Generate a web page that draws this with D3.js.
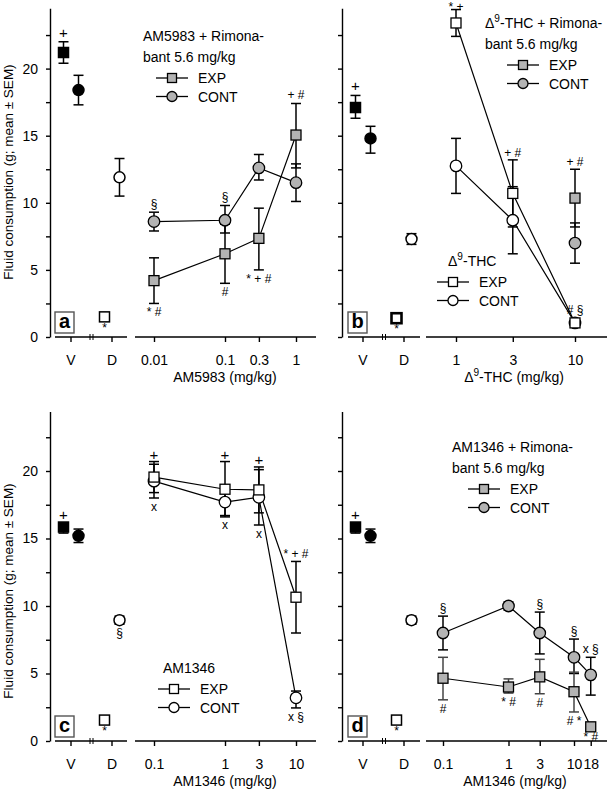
<!DOCTYPE html>
<html><head><meta charset="utf-8">
<script src="https://cdn.jsdelivr.net/npm/d3@7"></script>
<style>body{margin:0;background:#fff}svg{display:block}text{font-family:Arial,"Liberation Sans",Helvetica,sans-serif}</style>
</head><body><div id="chart"></div>
<script>
// ---------- DATA ----------
// Vehicle (V) / Drug-alone (D) control points: [group, series, mean, upper, lower]
const aVD = [["V","EXP",21.2,22.0,20.4],["V","CONT",18.4,19.5,17.3],["D","CONT",11.9,13.3,10.5],["D","EXP",1.5,null,null]];
const bVD = [["V","EXP",17.1,18.0,16.3],["V","CONT",14.8,15.7,13.7],["D","CONT",7.3,7.7,6.9],["D","EXP",1.4,null,null]];
const cVD = [["V","EXP",15.85,16.1,15.4],["V","CONT",15.2,15.7,14.7],["D","CONT",8.95,9.25,8.65],["D","EXP",1.55,null,null]];
const dVD = [["V","EXP",15.85,16.1,15.4],["V","CONT",15.2,15.7,14.7],["D","CONT",8.95,9.25,8.65],["D","EXP",1.55,null,null]];

// Dose series: [dose, mean, upper, lower]
const aExpRimo  = [[0.01,4.2,5.9,2.5],[0.1,6.2,8.4,4.0],[0.3,7.35,9.6,5.0],[1,15.05,17.4,12.6]];
const aContRimo = [[0.01,8.6,9.3,7.9],[0.1,8.7,9.8,7.75],[0.3,12.6,13.6,11.7],[1,11.5,12.9,10.1]];

const bExp  = [[1,23.4,24.4,22.4],[3,10.7,13.2,8.2],[10,1.05,null,null]];
const bCont = [[1,12.75,14.8,10.7],[3,8.7,11.2,6.2],[10,1.05,null,null]];
const bExpRimo  = [[10,10.35,12.5,8.2]];
const bContRimo = [[10,7.0,8.5,5.5]];

const cExp  = [[0.1,19.55,20.7,18.4],[1,18.65,20.7,16.6],[3,18.6,20.3,16.9],[10,10.65,13.3,8.0]];
const cCont = [[0.1,19.25,20.5,18.0],[1,17.7,18.7,16.7],[3,18.05,20.1,16.0],[10,3.2,3.7,2.45]];

const dExpRimo  = [[0.1,4.65,6.2,3.05],[1,4.0,4.6,3.55],[3,4.75,6.05,3.5],[10,3.65,5.1,2.15],[18,1.05,null,null]];
const dContRimo = [[0.1,8.0,9.25,6.75],[1,10.0,10.3,9.7],[3,8.0,9.55,6.45],[10,6.2,7.55,5.0],[18,4.9,6.2,3.4]];

// Tick values / labels
const yTicks = [0,2.5,5,7.5,10,12.5,15,17.5,20,22.5];
const aDoseTicks = [0.01,0.1,0.3,1], aDoseLabels = ["0.01","0.1","0.3","1"];
const bDoseTicks = [1,3,10], bDoseLabels = ["1","3","10"];
const cDoseTicks = [0.1,1,3,10], cDoseLabels = ["0.1","1","3","10"];
const dDoseTicks = [0.1,1,3,10,18], dDoseLabels = ["0.1","1","3","10","18"];
const catLabels = ["V","D"];

// Significance marks: [x (dose or "V"/"D"+series), anchor value, text, above/below, extra dy]
const aNotes = [["VEXP",22.0,"+","above",0],["DEXP",1.5,"*","below",0],
  [0.01,9.3,"§","above",0],[0.1,9.8,"§","above",0],
  [0.01,2.5,"* #","below",0],[0.1,4.0,"#","below",0],[0.3,5.0,"* + #","below",0],[1,17.4,"+ #","above",0]];
const bNotes = [["VEXP",18.0,"+","above",0],["DEXP",1.4,"*","below",0],
  [1,24.4,"* +","above",5],[3,13.2,"+ #","above",1],[10,12.5,"+ #","above",1],[10,1.05,"# §","above",-5]];
const cNotes = [["VEXP",16.1,"+","above",0],["DEXP",1.55,"*","below",0],["DCONT",8.65,"§","below",0],
  [0.1,20.7,"+","above",2],[1,20.7,"+","above",2],[3,20.3,"+","above",2],
  [0.1,18.0,"x","below",0],[1,16.7,"x","below",0],[3,16.0,"x","below",0],
  [10,13.3,"* + #","above",1],[10,2.45,"x §","below",0]];
const dNotes = [["VEXP",16.1,"+","above",0],["DEXP",1.55,"*","below",0],
  [0.1,9.25,"§","above",0],[3,9.55,"§","above",0],[10,7.55,"§","above",0],[18,6.2,"x §","above",0],
  [0.1,3.05,"#","below",0],[1,3.55,"* #","below",0],[3,3.5,"#","below",0],[10,2.15,"# *","below",0],[18,1.05,"* #","below",1]];

// ---------- DRAWING ----------
const W = 607, H = 789;
const GRAY = "#b3b3b3";
const svg = d3.select("#chart").append("svg").attr("width", W).attr("height", H);

const yTop = d3.scaleLinear().domain([0, 24.5]).range([337, 337 - 24.5 * 13.42]);
const yBot = d3.scaleLinear().domain([0, 24.4]).range([741, 741 - 24.4 * 13.5]);

function drawMarker(g, shape, x, y, fill, sw, size) {
  if (shape === "EXP") {
    const s = size || 10;
    g.append("rect").attr("x", x - s / 2).attr("y", y - s / 2).attr("width", s).attr("height", s)
      .attr("fill", fill).attr("stroke", "#000").attr("stroke-width", sw || 1.3);
  } else {
    g.append("circle").attr("cx", x).attr("cy", y).attr("r", (size || 11) / 2)
      .attr("fill", fill).attr("stroke", "#000").attr("stroke-width", sw || 1.3);
  }
}
function drawErr(g, x, yHi, yLo, color) {
  if (yHi == null) return;
  const c = color || "#000";
  g.append("line").attr("x1", x).attr("x2", x).attr("y1", yHi).attr("y2", yLo).attr("stroke", c).attr("stroke-width", 1.5);
  [yHi, yLo].forEach(yy => g.append("line").attr("x1", x - 5).attr("x2", x + 5).attr("y1", yy).attr("y2", yy).attr("stroke", c).attr("stroke-width", 1.5));
}
function addLabel(g, x, y, parts, size, anchor) {
  const t = g.append("text").attr("x", x).attr("y", y).attr("font-size", size || 14).attr("text-anchor", anchor || "start");
  parts.forEach(p => {
    if (p.sup) t.append("tspan").attr("dy", -6).attr("font-size", (size || 14) * 0.72).text(p.sup);
    else t.append("tspan").attr("dy", p.after ? 6 : 0).text(p.t);
  });
  return t;
}
function legend(g, x, y, label, fill) {
  g.append("line").attr("x1", x).attr("x2", x + 32).attr("y1", y).attr("y2", y).attr("stroke", "#000").attr("stroke-width", 1.3);
  drawMarker(g, label === "EXP" ? "EXP" : "CONT", x + 16, y, fill, 1.3, label === "EXP" ? 9 : 10);
  g.append("text").attr("x", x + 42).attr("y", y + 5).attr("font-size", 14).text(label);
}

function drawPanel(p) {
  const g = svg.append("g");
  const y = p.y, y0 = y(0);
  // y axis
  const ax = d3.axisLeft(y).tickValues(yTicks).tickSize(4).tickSizeOuter(0).tickPadding(8)
    .tickFormat(d => (p.showY && d % 5 === 0) ? d : "");
  const ga = g.append("g").attr("transform", `translate(${p.axisX},0)`).call(ax);
  ga.selectAll("path,line").attr("stroke", "#000").attr("stroke-width", 1.4);
  ga.selectAll("text").attr("font-size", 14).attr("fill", "#000").attr("font-family", "Arial, 'Liberation Sans', sans-serif");
  // x axis segments
  const cat = d3.scaleOrdinal().domain(catLabels).range([p.vx, p.dx]);
  [[p.seg1[0], p.seg1[1]], [p.seg2[0], p.seg2[1]]].forEach(s =>
    g.append("line").attr("x1", s[0]).attr("x2", s[1]).attr("y1", y0).attr("y2", y0).attr("stroke", "#000").attr("stroke-width", 1.4));
  [p.brk - 1.5, p.brk + 1.5].forEach(bx =>
    g.append("line").attr("x1", bx).attr("x2", bx).attr("y1", y0 - 3).attr("y2", y0 + 3).attr("stroke", "#000").attr("stroke-width", 1));
  catLabels.forEach(c => {
    g.append("line").attr("x1", cat(c)).attr("x2", cat(c)).attr("y1", y0).attr("y2", y0 + 5).attr("stroke", "#000").attr("stroke-width", 1.4);
    g.append("text").attr("x", cat(c)).attr("y", y0 + 28).attr("text-anchor", "middle").attr("font-size", 14).text(c);
  });
  const xa = d3.axisBottom(p.dose).tickValues(p.ticks).tickFormat((d, i) => p.tickLabels[i]).tickSize(5).tickSizeOuter(0).tickPadding(13);
  const gx = g.append("g").attr("transform", `translate(0,${y0})`).call(xa);
  gx.select(".domain").remove();
  gx.selectAll("line").attr("stroke", "#000").attr("stroke-width", 1.4);
  gx.selectAll("text").attr("font-size", 14).attr("fill", "#000").attr("font-family", "Arial, 'Liberation Sans', sans-serif");
  // axis title
  addLabel(g, p.titleX, y0 + 45, p.title, 14, "middle");
  // y title
  if (p.showY) {
    g.append("text").attr("transform", `translate(13,${p.yTitleC}) rotate(-90)`).attr("text-anchor", "middle")
      .attr("font-size", 13.5).text("Fluid consumption (g; mean ± SEM)");
  }
  // panel letter
  g.append("rect").attr("x", p.seg1[0]).attr("y", y0 - 25).attr("width", 19).attr("height", 21)
    .attr("fill", "#fff").attr("stroke", "#555").attr("stroke-width", 1.4);
  g.append("text").attr("x", p.seg1[0] + 9.5).attr("y", y0 - 9).attr("text-anchor", "middle")
    .attr("font-size", 20).attr("font-weight", "bold").text(p.letter);

  const vdX = d => cat(d[0]) + (d[1] === "EXP" ? -7.5 : 7.5);
  // lines
  const line = d3.line().x(d => p.dose(d[0])).y(d => y(d[1]));
  p.series.filter(s => s.connect).forEach(s =>
    g.append("path").attr("d", line(s.data)).attr("fill", "none").attr("stroke", "#000").attr("stroke-width", 1.2));
  // error bars
  p.vd.forEach(d => drawErr(g, vdX(d), d[3] == null ? null : y(d[3]), d[4] == null ? null : y(d[4])));
  p.series.forEach(s => s.data.forEach(d =>
    drawErr(g, p.dose(d[0]), d[2] == null ? null : y(d[2]), d[3] == null ? null : y(d[3]), s.errColor)));
  // markers
  p.vd.forEach(d => drawMarker(g, d[1], vdX(d), y(d[2]), d[0] === "V" ? "#000" : "#fff",
    d[0] === "D" && d[1] === "EXP" ? p.dExpStroke : 1.5, d[1] === "EXP" ? 10 : 11));
  p.series.forEach(s => s.data.forEach(d => drawMarker(g, s.shape, p.dose(d[0]), y(d[1]), s.fill, 1.3, s.shape === "EXP" ? 10 : 11.5)));
  // significance marks
  p.notes.forEach(n => {
    let x;
    if (typeof n[0] === "string") {
      const grp = n[0][0], ser = n[0].slice(1);
      x = cat(grp) + (ser === "EXP" ? -7.5 : 7.5);
    } else x = p.dose(n[0]);
    const ay = y(n[1]);
    const by = n[3] === "above" ? ay - 4 + n[4] : ay + 13 + n[4];
    const fs = n[2] === "+" ? 15 : 12;
    g.append("text").attr("x", x).attr("y", n[3] === "below" && n[2] === "*" ? by + 2 : by).attr("text-anchor", "middle")
      .attr("font-size", fs).text(n[2]);
  });
  // legends
  p.legends.forEach(L => {
    L.lines.forEach((ln, i) => addLabel(g, L.x, L.y + i * 21, ln, 14, "start"));
    const ly = L.y + (L.lines.length - 1) * 21 + 16;
    legend(g, L.lx, ly, "EXP", L.fill);
    legend(g, L.lx, ly + 18.5, "CONT", L.fill);
  });
}

drawPanel({
  letter: "a", y: yTop, axisX: 50, showY: true, yTitleC: 172,
  seg1: [55, 127], brk: 91.5, seg2: [135, 316], vx: 71, dx: 112,
  dose: d3.scaleLog().domain([0.01, 1]).range([154, 296]), ticks: aDoseTicks, tickLabels: aDoseLabels,
  title: [{t: "AM5983 (mg/kg)"}], titleX: 225, vd: aVD, dExpStroke: 1.5,
  series: [
    {data: aContRimo, shape: "CONT", fill: GRAY, connect: true},
    {data: aExpRimo, shape: "EXP", fill: GRAY, connect: true}],
  notes: aNotes,
  legends: [{x: 143, y: 41, lines: [[{t: "AM5983 + Rimona-"}], [{t: "bant 5.6 mg/kg"}]], lx: 156, fill: GRAY}]
});
drawPanel({
  letter: "b", y: yTop, axisX: 342, showY: false,
  seg1: [348, 420], brk: 384, seg2: [426, 607], vx: 363, dx: 404,
  dose: d3.scaleLog().domain([1, 10]).range([456, 575]), ticks: bDoseTicks, tickLabels: bDoseLabels,
  title: [{t: "Δ"}, {sup: "9"}, {t: "-THC (mg/kg)", after: true}], titleX: 514, vd: bVD, dExpStroke: 2.6,
  series: [
    {data: bCont, shape: "CONT", fill: "#fff", connect: true},
    {data: bExp, shape: "EXP", fill: "#fff", connect: true},
    {data: bContRimo, shape: "CONT", fill: GRAY, connect: false},
    {data: bExpRimo, shape: "EXP", fill: GRAY, connect: false}],
  notes: bNotes,
  legends: [
    {x: 485, y: 28, lines: [[{t: "Δ"}, {sup: "9"}, {t: "-THC + Rimona-", after: true}], [{t: "bant 5.6 mg/kg"}]], lx: 507, fill: GRAY},
    {x: 448, y: 266, lines: [[{t: "Δ"}, {sup: "9"}, {t: "-THC", after: true}]], lx: 437, fill: "#fff"}]
});
drawPanel({
  letter: "c", y: yBot, axisX: 50, showY: true, yTitleC: 591,
  seg1: [55, 127], brk: 91.5, seg2: [135, 316], vx: 71, dx: 112,
  dose: d3.scaleLog().domain([0.1, 10]).range([154, 296]), ticks: cDoseTicks, tickLabels: cDoseLabels,
  title: [{t: "AM1346 (mg/kg)"}], titleX: 225, vd: cVD, dExpStroke: 1.5,
  series: [
    {data: cCont, shape: "CONT", fill: "#fff", connect: true},
    {data: cExp, shape: "EXP", fill: "#fff", connect: true}],
  notes: cNotes,
  legends: [{x: 163, y: 673, lines: [[{t: "AM1346"}]], lx: 158, fill: "#fff"}]
});
drawPanel({
  letter: "d", y: yBot, axisX: 342, showY: false,
  seg1: [348, 420], brk: 384, seg2: [426, 607], vx: 363, dx: 404,
  dose: d3.scaleLog().domain([0.1, 10]).range([443, 574]), ticks: dDoseTicks, tickLabels: dDoseLabels,
  title: [{t: "AM1346 (mg/kg)"}], titleX: 515, vd: dVD, dExpStroke: 1.5,
  series: [
    {data: dContRimo, shape: "CONT", fill: GRAY, connect: true},
    {data: dExpRimo, shape: "EXP", fill: GRAY, connect: true, errColor: "#444"}],
  notes: dNotes,
  legends: [{x: 452, y: 452, lines: [[{t: "AM1346 + Rimona-"}], [{t: "bant 5.6 mg/kg"}]], lx: 468, fill: GRAY}]
});
</script></body></html>
